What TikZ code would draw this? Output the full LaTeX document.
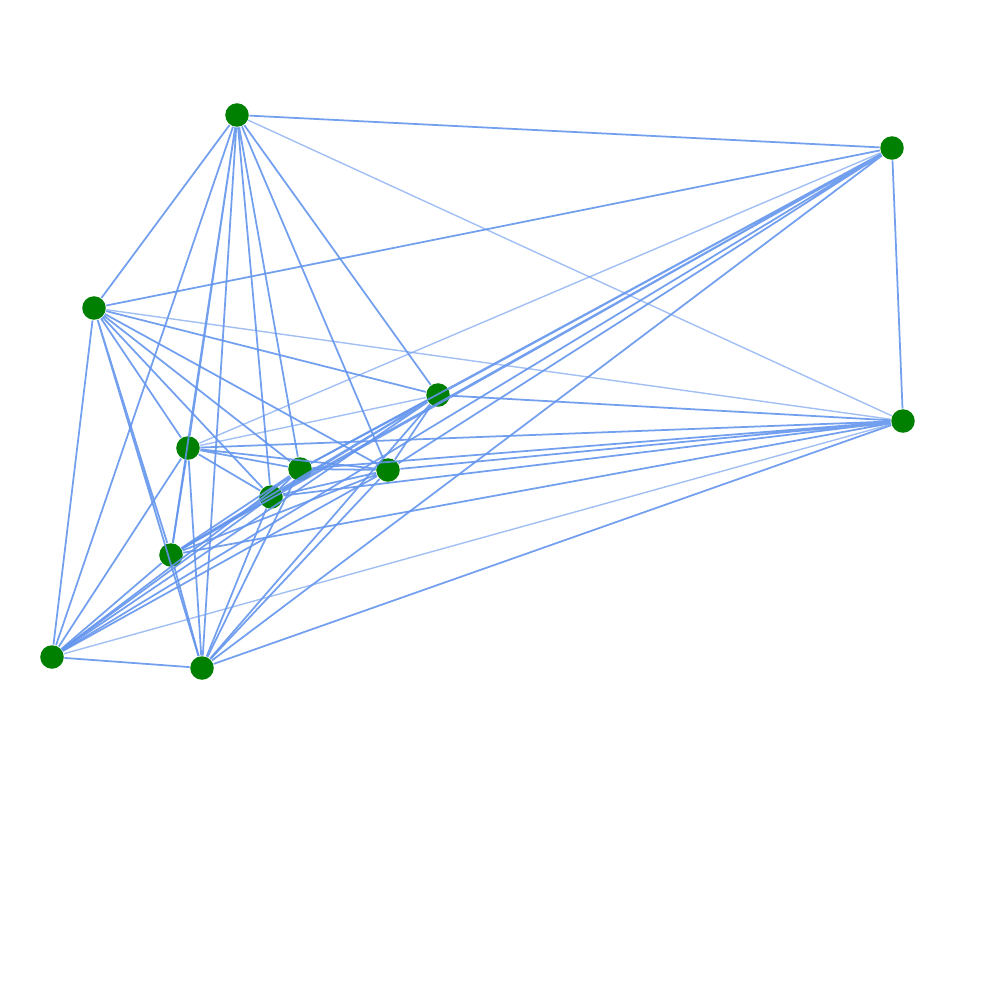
\documentclass[tikz,border=0pt]{standalone}
\usepackage{xcolor}
\usepackage{tikz}
\definecolor{edgeblue}{RGB}{100,149,237}
\definecolor{dotgreen}{RGB}{0,128,0}

\begin{document}
\begin{tikzpicture}[x=0.01cm, y=-0.01cm,
  dot/.style={circle, fill=dotgreen, inner sep=0pt, minimum size=0.235cm},
  edge/.style={draw=edgeblue, line width=0.5pt, opacity=0.9},
  faint/.style={edge, line width=0.4pt, opacity=0.6}]
\useasboundingbox (0,0) rectangle (1000,1000);
\node[dot] (v0) at (237,115) {};
\node[dot] (v1) at (892,148) {};
\node[dot] (v2) at (94,308) {};
\node[dot] (v3) at (438,395) {};
\node[dot] (v4) at (903,421) {};
\node[dot] (v5) at (188,448) {};
\node[dot] (v6) at (300,469) {};
\node[dot] (v7) at (388,470) {};
\node[dot] (v8) at (271,497) {};
\node[dot] (v9) at (171,555) {};
\node[dot] (v10) at (52,657) {};
\node[dot] (v11) at (202,668) {};
\draw[edge] (v0) -- (v1) (v0) -- (v2) (v0) -- (v3) (v0) -- (v5) (v0) -- (v6)
  (v0) -- (v7) (v0) -- (v8) (v0) -- (v9) (v0) -- (v10) (v0) -- (v11);
\draw[faint] (v0) -- (v4);
\draw[edge] (v1) -- (v2) (v1) -- (v3) (v1) -- (v4) (v1) -- (v6) (v1) -- (v7)
  (v1) -- (v8) (v1) -- (v9) (v1) -- (v10) (v1) -- (v11);
\draw[faint] (v1) -- (v5);
\draw[edge] (v2) -- (v5) (v2) -- (v6) (v2) -- (v7) (v2) -- (v8) (v2) -- (v9)
  (v2) -- (v10) (v2) -- (v11) (v2) -- (v3);
\draw[faint] (v2) -- (v4);
\draw[edge] (v3) -- (v4) (v3) -- (v6) (v3) -- (v7) (v3) -- (v8) (v3) -- (v9)
  (v3) -- (v10) (v3) -- (v11);
\draw[faint] (v3) -- (v5);
\draw[edge] (v4) -- (v5) (v4) -- (v6) (v4) -- (v7) (v4) -- (v8) (v4) -- (v9)
  (v4) -- (v11);
\draw[faint] (v4) -- (v10);
\draw[edge] (v5) -- (v6) (v5) -- (v7) (v5) -- (v8) (v5) -- (v9) (v5) -- (v10)
  (v5) -- (v11);
\draw[edge] (v6) -- (v7) (v6) -- (v8) (v6) -- (v9) (v6) -- (v10) (v6) -- (v11);
\draw[edge] (v7) -- (v8) (v7) -- (v9) (v7) -- (v10) (v7) -- (v11);
\draw[edge] (v8) -- (v9) (v8) -- (v10) (v8) -- (v11);
\draw[edge] (v9) -- (v10) (v9) -- (v11);
\draw[edge] (v10) -- (v11);
\end{tikzpicture}
\end{document}
